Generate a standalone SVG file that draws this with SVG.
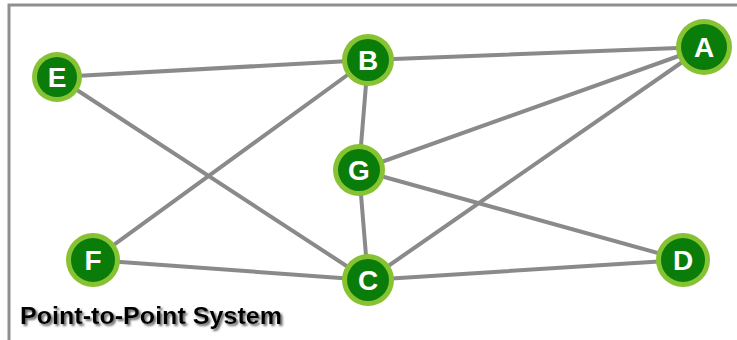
<svg xmlns="http://www.w3.org/2000/svg" width="737" height="340" viewBox="0 0 737 340">
<style>
.edge{stroke:#8a8a8a;stroke-width:4;stroke-linecap:round;fill:none}
.ring{fill:#86c232}
.core{fill:#0a7c0a}
.lbl{font-family:"Liberation Sans",Arial,sans-serif;font-weight:bold;font-size:28px;fill:#fff;text-anchor:middle}
.title{font-family:"Liberation Sans",Arial,sans-serif;font-weight:bold;font-size:24px}
</style>
<defs>
<filter id="sh" x="-10%" y="-30%" width="120%" height="170%">
<feGaussianBlur in="SourceAlpha" stdDeviation="1"/>
<feOffset dx="2" dy="2" result="b"/>
<feFlood flood-color="#666"/>
<feComposite in2="b" operator="in"/>
<feMerge><feMergeNode/><feMergeNode in="SourceGraphic"/></feMerge>
</filter>
</defs>
<rect x="0" y="0" width="737" height="340" fill="#fff"/>
<rect x="9" y="5" width="740" height="345" fill="none" stroke="#8f8f8f" stroke-width="3"/>
<g id="connectors">
<line class="edge" x1="57" y1="77" x2="368" y2="60"/>
<line class="edge" x1="57" y1="77" x2="368" y2="280"/>
<line class="edge" x1="93" y1="260" x2="368" y2="60"/>
<line class="edge" x1="93" y1="260" x2="368" y2="280"/>
<line class="edge" x1="368" y1="60" x2="704" y2="47"/>
<line class="edge" x1="368" y1="60" x2="359" y2="170"/>
<line class="edge" x1="359" y1="170" x2="368" y2="280"/>
<line class="edge" x1="359" y1="170" x2="704" y2="47"/>
<line class="edge" x1="359" y1="170" x2="683" y2="260"/>
<line class="edge" x1="368" y1="280" x2="704" y2="47"/>
<line class="edge" x1="368" y1="280" x2="683" y2="260"/>
</g>
<g id="node-E"><circle class="ring" cx="57" cy="77" r="25"/><circle class="core" cx="57" cy="77" r="20"/><text class="lbl" x="57" y="87">E</text></g>
<g id="node-B"><circle class="ring" cx="368" cy="60" r="26"/><circle class="core" cx="368" cy="60" r="21"/><text class="lbl" x="368" y="70">B</text></g>
<g id="node-A"><circle class="ring" cx="704" cy="47" r="28"/><circle class="core" cx="704" cy="47" r="23"/><text class="lbl" x="704" y="57">A</text></g>
<g id="node-G"><circle class="ring" cx="359" cy="170" r="26"/><circle class="core" cx="359" cy="170" r="21"/><text class="lbl" x="359" y="180">G</text></g>
<g id="node-F"><circle class="ring" cx="93" cy="260" r="27"/><circle class="core" cx="93" cy="260" r="22"/><text class="lbl" x="93" y="270">F</text></g>
<g id="node-C"><circle class="ring" cx="368" cy="280" r="26"/><circle class="core" cx="368" cy="280" r="21"/><text class="lbl" x="368" y="290">C</text></g>
<g id="node-D"><circle class="ring" cx="683" cy="260" r="27"/><circle class="core" cx="683" cy="260" r="22"/><text class="lbl" x="683" y="270">D</text></g>
<g id="title">
<text class="title" x="20" y="324" fill="#000" filter="url(#sh)" textLength="262" lengthAdjust="spacingAndGlyphs">Point-to-Point System</text>
</g>
</svg>
